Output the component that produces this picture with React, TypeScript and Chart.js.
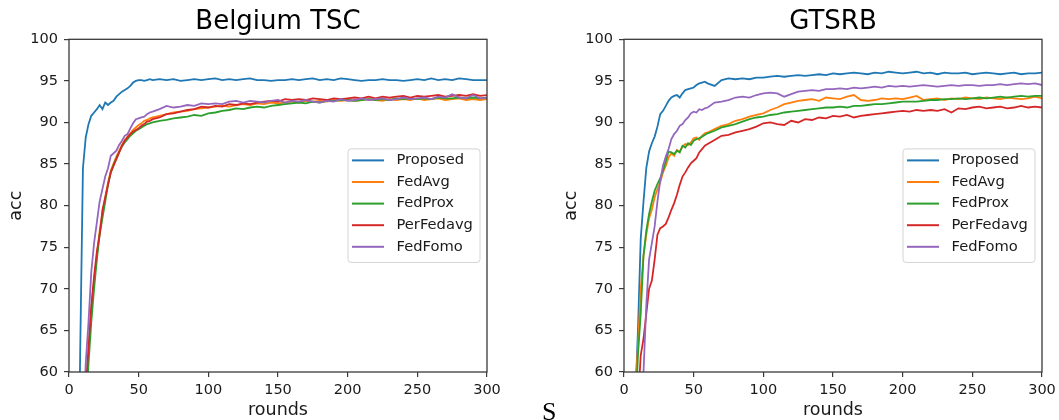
import React, { useEffect, useRef } from "react";
import { Chart, registerables } from "chart.js";

Chart.register(...registerables);

// ---------- data ----------
const ROUNDS = [
  0, 2, 4, 6, 8, 10, 12, 14, 16, 18, 20, 22, 24, 26, 28, 30, 32, 34, 36, 38, 40, 42, 44, 46, 48, 50, 52, 54, 56, 58, 60,
  65, 70, 75, 80, 85, 90, 95, 100,
  105, 110, 115, 120, 125, 130, 135, 140, 145, 150,
  155, 160, 165, 170, 175, 180, 185, 190, 195, 200,
  205, 210, 215, 220, 225, 230, 235, 240, 245, 250,
  255, 260, 265, 270, 275, 280, 285, 290, 295, 300,
];

const SERIES_NAMES = ["Proposed", "FedAvg", "FedProx", "PerFedavg", "FedFomo"];
const SERIES_COLORS = ["#1f77b4", "#ff7f0e", "#2ca02c", "#d62728", "#9467bd"];

const X_TICKS = [0, 50, 100, 150, 200, 250, 300];
const Y_TICKS = [60, 65, 70, 75, 80, 85, 90, 95, 100];

const CHART_TITLES = ["Belgium TSC", "GTSRB"];
const X_LABEL = "rounds";
const Y_LABEL = "acc";

// Belgium TSC
const belgiumProposed = [
  2, 5, 12, 35, 62, 84.5, 88.2, 89.8, 90.8, 91.2, 91.6, 92.1, 91.6, 92.4, 92.1, 92.4, 92.6, 93.1, 93.4, 93.7, 93.9, 94.1, 94.4, 94.8, 95.0, 95.1, 95.1, 95.0, 95.1, 95.2, 95.1,
  95.2, 95.1, 95.2, 95.0, 95.1, 95.2, 95.1, 95.2,
  95.3, 95.1, 95.2, 95.1, 95.2, 95.3, 95.1, 95.1, 95.0, 95.1,
  95.1, 95.2, 95.1, 95.2, 95.3, 95.1, 95.2, 95.1, 95.3, 95.2,
  95.1, 95.0, 95.1, 95.1, 95.2, 95.1, 95.1, 95.0, 95.1, 95.2,
  95.1, 95.3, 95.1, 95.2, 95.1, 95.3, 95.2, 95.1, 95.1, 95.1,
];
const belgiumFedAvg = [
  8, 12, 18, 26, 36, 47, 57, 62.5, 67.5, 71, 74, 77, 79, 81, 82.8, 84.2, 85.1, 85.9, 86.6, 87.3, 87.9, 88.3, 88.7, 89.1, 89.4, 89.7, 89.9, 90.2, 90.3, 90.5, 90.6,
  90.8, 91.0, 91.2, 91.3, 91.4, 91.6, 91.7, 91.8,
  91.9, 92.0, 91.9, 92.1, 92.2, 92.1, 92.3, 92.2, 92.4, 92.3,
  92.4, 92.5, 92.4, 92.6, 92.5, 92.6, 92.5, 92.7, 92.6, 92.7,
  92.6, 92.7, 92.8, 92.7, 92.6, 92.8, 92.7, 92.8, 92.7, 92.9,
  92.7, 92.8, 92.9, 92.7, 92.8, 92.9, 92.7, 92.8, 92.7, 92.8,
];
const belgiumFedProx = [
  8, 12, 18, 25, 34, 45, 55, 61, 66, 70, 73.5, 76.5, 78.5, 80.5, 82.5, 84, 84.9, 85.7, 86.4, 87.1, 87.6, 88.0, 88.4, 88.7, 89.0, 89.2, 89.4, 89.6, 89.8, 89.9, 90.0,
  90.2, 90.3, 90.5, 90.6, 90.7, 90.9, 90.8, 91.1,
  91.2, 91.4, 91.5, 91.7, 91.6, 91.8, 91.9, 91.8, 92.0, 92.1,
  92.2, 92.3, 92.4, 92.3, 92.5, 92.4, 92.6, 92.6, 92.7, 92.7,
  92.6, 92.7, 92.8, 92.7, 92.8, 92.7, 92.9, 92.8, 92.9, 92.8,
  92.9, 92.8, 93.0, 92.9, 92.9, 93.0, 92.9, 93.0, 92.9, 93.0,
];
const belgiumPerFedavg = [
  8, 12, 18, 26, 36, 48, 58, 63, 68, 71.5, 74.5, 76.5, 79.5, 81, 82.5, 84, 84.8, 85.6, 86.4, 87.2, 87.8, 88.2, 88.6, 88.9, 89.1, 89.3, 89.6, 89.8, 90.1, 90.2, 90.4,
  90.6, 91.0, 91.1, 91.3, 91.5, 91.6, 91.9, 91.8,
  92.0, 91.9, 92.2, 92.1, 92.3, 92.2, 92.4, 92.5, 92.6, 92.5,
  92.8, 92.7, 92.8, 92.7, 92.9, 92.8, 92.7, 92.9, 92.8, 92.9,
  93.0, 92.9, 93.1, 92.9, 93.1, 93.0, 93.1, 93.2, 93.0, 93.2,
  93.1, 93.2, 93.3, 93.1, 93.2, 93.3, 93.2, 93.4, 93.2, 93.3,
];
const belgiumFedFomo = [
  10, 15, 22, 30, 40, 52, 61, 66, 72, 75.5, 78, 80.5, 82, 83.5, 84.5, 86, 86.3, 86.6, 87.3, 87.8, 88.4, 88.6, 89.3, 89.9, 90.4, 90.5, 90.6, 90.7, 91.0, 91.2, 91.3,
  91.6, 92.0, 91.8, 91.9, 92.1, 92.0, 92.3, 92.2,
  92.3, 92.2, 92.5, 92.6, 92.4, 92.6, 92.5, 92.4, 92.6, 92.7,
  92.4, 92.6, 92.5, 92.7, 92.5, 92.4, 92.6, 92.5, 92.8, 92.6,
  92.7, 92.9, 92.7, 92.8, 92.9, 92.7, 92.8, 93.0, 92.8, 92.9,
  93.0, 92.8, 93.1, 93.0, 93.4, 93.0, 92.9, 93.3, 92.9, 93.0,
];

// GTSRB
const gtsrbProposed = [
  5, 10, 20, 40, 56, 65, 76, 80.5, 84.5, 86.5, 87.5, 88.3, 89.5, 91.0, 91.4, 92.0, 92.6, 93.0, 93.2, 93.3, 93.0, 93.5, 93.9, 94.0, 94.1, 94.2, 94.5, 94.7, 94.8, 94.9, 94.7,
  94.4, 95.1, 95.3, 95.2, 95.3, 95.2, 95.4, 95.4,
  95.5, 95.6, 95.5, 95.6, 95.7, 95.6, 95.7, 95.8, 95.7, 95.9,
  95.8, 95.9, 96.0, 95.9, 95.8, 96.0, 95.9, 96.1, 96.0, 95.9,
  96.0, 96.1, 95.9, 96.0, 95.8, 96.0, 95.9, 95.9, 96.0, 95.8,
  95.9, 96.0, 95.9, 95.8, 95.9, 96.0, 95.8, 95.9, 95.9, 96.0,
];
const gtsrbFedAvg = [
  8, 14, 25, 40, 58, 63, 70, 74, 76.5, 78.5, 79.5, 81, 82, 82.8, 84.0, 84.8, 85.8, 86.3, 86.0, 86.7, 86.5, 87.1, 87.4, 87.3, 87.6, 88.1, 88.2, 87.9, 88.4, 88.7, 88.8,
  89.2, 89.6, 89.8, 90.2, 90.4, 90.7, 90.9, 91.1,
  91.5, 91.8, 92.2, 92.4, 92.6, 92.7, 92.8, 92.6, 93.0, 92.9,
  92.8, 93.1, 93.3, 92.7, 92.6, 92.7, 92.9, 92.8, 92.9, 92.8,
  93.0, 93.2, 92.7, 92.8, 92.9, 92.7, 92.9, 92.8, 93.0, 92.9,
  92.8, 93.0, 92.9, 92.8, 93.0, 92.9, 92.8, 92.9, 93.1, 92.9,
];
const gtsrbFedProx = [
  8, 14, 24, 38, 54, 62, 67, 74, 77, 79, 80.5, 81.8, 82.6, 83.3, 84.2, 85.3, 86.5, 86.4, 86.2, 86.6, 86.4, 87.2, 87.0, 87.5, 87.3, 87.8, 88.0, 88.1, 88.3, 88.5, 88.7,
  89.0, 89.4, 89.6, 89.8, 90.1, 90.4, 90.6, 90.7,
  90.9, 91.0, 91.2, 91.3, 91.4, 91.5, 91.6, 91.7, 91.8, 91.8,
  91.9, 91.8, 92.0, 92.0, 92.1, 92.2, 92.2, 92.3, 92.4, 92.5,
  92.5, 92.5, 92.6, 92.7, 92.7, 92.8, 92.8, 92.9, 92.8, 92.9,
  93.0, 92.9, 93.0, 93.1, 93.0, 93.1, 93.2, 93.1, 93.2, 93.2,
];
const gtsrbPerFedavg = [
  5, 10, 20, 32, 45, 56, 62, 64, 67, 70, 71, 73.5, 76.5, 77.3, 77.5, 77.8, 78.6, 79.5, 80.3, 81.3, 82.5, 83.5, 84.0, 84.6, 85.1, 85.4, 85.7, 86.4, 86.8, 87.2, 87.4,
  87.9, 88.4, 88.5, 88.8, 89.0, 89.2, 89.5, 89.9,
  90.0, 89.8, 89.7, 90.2, 90.0, 90.4, 90.3, 90.6, 90.5, 90.8,
  90.7, 90.9, 90.6, 90.8, 90.9, 91.0, 91.1, 91.2, 91.3, 91.4,
  91.3, 91.5, 91.4, 91.5, 91.4, 91.6, 91.2, 91.7, 91.6, 91.8,
  91.9, 91.7, 91.8, 91.9, 91.7, 91.8, 92.0, 91.8, 91.9, 91.8,
];
const gtsrbFedFomo = [
  5, 10, 18, 28, 38, 46, 54, 60, 68, 73.5, 75.5, 77.5, 80.5, 83, 84.8, 85.9, 86.8, 88.0, 88.6, 89.0, 89.6, 89.8, 90.3, 90.6, 91.1, 91.3, 91.2, 91.6, 91.5, 91.7, 91.8,
  92.4, 92.5, 92.7, 93.0, 93.1, 93.0, 93.3, 93.5,
  93.6, 93.5, 93.1, 93.4, 93.7, 93.8, 93.9, 93.8, 94.0, 94.0,
  94.1, 94.0, 94.2, 94.1, 94.2, 94.3, 94.2, 94.4, 94.3, 94.4,
  94.3, 94.4, 94.5, 94.4, 94.3, 94.4, 94.5, 94.4, 94.5, 94.5,
  94.4, 94.5, 94.5, 94.6, 94.5, 94.6, 94.7, 94.6, 94.7, 94.5,
];

const BELGIUM = [belgiumProposed, belgiumFedAvg, belgiumFedProx, belgiumPerFedavg, belgiumFedFomo];
const GTSRB = [gtsrbProposed, gtsrbFedAvg, gtsrbFedProx, gtsrbPerFedavg, gtsrbFedFomo];

// ---------- styling ----------
const FONT = "'DejaVu Sans', Verdana, sans-serif";
const TEXT = "#1a1a1a";
const SPINE = "#3a3a3a";

const frameLegendPlugin = {
  id: "frameLegend",
  afterDraw(chart: any) {
    const { ctx, chartArea: a } = chart;
    ctx.save();
    // all four spines
    ctx.strokeStyle = SPINE;
    ctx.lineWidth = 1.3;
    ctx.strokeRect(a.left, a.top, a.right - a.left, a.bottom - a.top);
    // legend box (center right)
    const w = 132;
    const h = 113.5;
    const x0 = a.right - 7 - w;
    const y0 = (a.top + a.bottom) / 2 - h / 2;
    ctx.beginPath();
    if (ctx.roundRect) ctx.roundRect(x0, y0, w, h, 3);
    else ctx.rect(x0, y0, w, h);
    ctx.fillStyle = "rgba(255,255,255,0.85)";
    ctx.fill();
    ctx.strokeStyle = "#d4d4d4";
    ctx.lineWidth = 1;
    ctx.stroke();
    ctx.font = `14.7px ${FONT}`;
    ctx.textBaseline = "middle";
    ctx.textAlign = "left";
    chart.data.datasets.forEach((ds: any, i: number) => {
      const y = y0 + 11.5 + i * 21.6;
      ctx.strokeStyle = ds.borderColor;
      ctx.lineWidth = 2;
      ctx.beginPath();
      ctx.moveTo(x0 + 4, y);
      ctx.lineTo(x0 + 36, y);
      ctx.stroke();
      ctx.fillStyle = TEXT;
      ctx.fillText(ds.label, x0 + 48.5, y);
    });
    ctx.restore();
  },
};

function zeroPad(s: any) {
  s.paddingLeft = 0;
  s.paddingRight = 0;
  s.paddingTop = 0;
  s.paddingBottom = 0;
}

function AccChart({ title, series }: { title: string; series: number[][] }) {
  const ref = useRef<HTMLCanvasElement | null>(null);
  useEffect(() => {
    if (!ref.current) return;
    const datasets = SERIES_NAMES.map((name, i) => ({
      label: name,
      data: ROUNDS.map((x, j) => ({ x, y: series[i][j] })),
      borderColor: SERIES_COLORS[i],
      backgroundColor: SERIES_COLORS[i],
      borderWidth: 1.8,
      pointRadius: 0,
      tension: 0,
      fill: false,
      clip: 0,
      order: SERIES_NAMES.length - i,
    }));
    const chart = new Chart(ref.current, {
      type: "line",
      data: { datasets },
      options: {
        animation: false,
        responsive: false,
        maintainAspectRatio: false,
        devicePixelRatio: 1,
        layout: { padding: { left: 0, right: 13, top: 0, bottom: 0 } },
        plugins: {
          legend: { display: false },
          tooltip: { enabled: false },
          title: {
            display: true,
            text: title,
            fullSize: false,
            color: "#000",
            font: { family: FONT, size: 26, weight: "normal" },
            padding: { top: 6.5, bottom: 1.6 },
          },
        },
        scales: {
          x: {
            type: "linear",
            min: 0,
            max: 300,
            afterBuildTicks: (s: any) => {
              s.ticks = X_TICKS.map((v) => ({ value: v }));
            },
            ticks: { color: TEXT, font: { family: FONT, size: 14.5 }, padding: 5, maxRotation: 0, autoSkip: false },
            grid: { drawOnChartArea: false, drawTicks: true, tickLength: 5, color: SPINE, lineWidth: 1.2 },
            border: { display: false },
            title: {
              display: true,
              text: X_LABEL,
              color: TEXT,
              font: { family: FONT, size: 17.5 },
              padding: { top: 0, bottom: -1 },
            },
            afterFit: (s: any) => {
              s.height = 48;
              zeroPad(s);
            },
          },
          y: {
            type: "linear",
            min: 60,
            max: 100,
            afterBuildTicks: (s: any) => {
              s.ticks = Y_TICKS.map((v) => ({ value: v }));
            },
            ticks: { color: TEXT, font: { family: FONT, size: 14.5 }, padding: 6, autoSkip: false },
            grid: { drawOnChartArea: false, drawTicks: true, tickLength: 5, color: SPINE, lineWidth: 1.2 },
            border: { display: false },
            title: {
              display: true,
              text: Y_LABEL,
              color: TEXT,
              font: { family: FONT, size: 17.5 },
              padding: { top: 6, bottom: 0 },
            },
            afterFit: (s: any) => {
              s.width = 69;
              zeroPad(s);
            },
          },
        },
      },
      plugins: [frameLegendPlugin],
    } as any);
    return () => chart.destroy();
  }, [title, series]);
  return <canvas ref={ref} width={500} height={420} style={{ width: 500, height: 420, display: "block" }} />;
}

export default function App() {
  return (
    <div style={{ position: "absolute", left: 0, top: 0, width: 1059, height: 420, background: "#fff", overflow: "hidden" }}>
      <div style={{ position: "absolute", left: 0, top: 0 }}>
        <AccChart title={CHART_TITLES[0]} series={BELGIUM} />
      </div>
      <div style={{ position: "absolute", left: 555, top: 0 }}>
        <AccChart title={CHART_TITLES[1]} series={GTSRB} />
      </div>
      <span
        style={{
          position: "absolute",
          left: 542,
          top: 399,
          fontFamily: "'Liberation Serif', 'Times New Roman', serif",
          fontSize: 26,
          lineHeight: "26px",
          color: "#000",
        }}
      >
        S
      </span>
    </div>
  );
}
